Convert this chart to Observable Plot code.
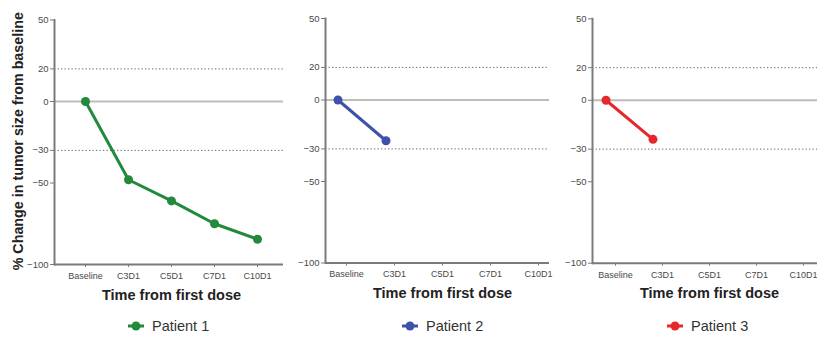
<!DOCTYPE html>
<html>
<head>
<meta charset="utf-8">
<script src="https://cdn.jsdelivr.net/npm/d3@7"></script>
<script src="https://cdn.jsdelivr.net/npm/@observablehq/plot@0.6"></script>
<style>
  html, body { margin: 0; padding: 0; background: #fff; }
  #root { position: relative; width: 817px; height: 337px; overflow: hidden; font-family: "Liberation Sans", Arial, sans-serif; }
  .panel { position: absolute; top: 0; }
  .legend { position: absolute; top: 318px; display: flex; align-items: center; font-size: 14.5px; color: #333; white-space: nowrap; }
  .legend svg { margin-right: 8px; }
</style>
</head>
<body>
<div id="root"></div>
<script>
// ---- data ----
const categories = ["Baseline", "C3D1", "C5D1", "C7D1", "C10D1"];
const patient1 = [0, -48, -61, -75, -84.5];
const patient2 = [0, -25];
const patient3 = [0, -24];
const patients = ["Patient 1", "Patient 2", "Patient 3"];
const colors = ["#22893d", "#3d52a8", "#e6282c"];
const yTicks = [50, 20, 0, -30, -50, -100];
const dottedRefs = [20, -30];
const zeroRef = [0];
const yDomain = [-100, 50];
const xTitle = "Time from first dose";
const yTitle = "% Change in tumor size from baseline";

const series = [patient1, patient2, patient3];

// ---- layout (pixels) ----
const H = 310;
const layout = [
  {left: 0,   width: 283, axisX: 54,  first: 84,  last: 258, top: 19.5, bottom: 264,   dx: 0},
  {left: 285, width: 264, axisX: 325, first: 346, last: 538, top: 18,   bottom: 262.5, dx: -8.5},
  {left: 555, width: 262, axisX: 592, first: 613, last: 804, top: 18.3, bottom: 262.7, dx: -9.5}
];
const legendPos = [128, 402, 667];

const root = document.getElementById("root");

series.forEach((vals, i) => {
  const L = layout[i];
  const data = vals.map((v, j) => ({t: categories[j], v}));
  const marks = [
    Plot.ruleY(zeroRef, {stroke: "#bdbdbd", strokeWidth: 2}),
    Plot.ruleY(dottedRefs, {stroke: "#666", strokeWidth: 1, strokeDasharray: "1.3,2.2"}),
    Plot.frame({anchor: "left", stroke: "#7a7a7a", strokeWidth: 2}),
    Plot.ruleY([yDomain[0]], {stroke: "#7a7a7a", strokeWidth: 2}),
    Plot.axisY({ticks: yTicks, tickSize: 4, tickPadding: 2, label: null, stroke: "#7a7a7a", fontSize: 9.5}),
    Plot.axisX({tickSize: 3, tickPadding: 5, label: null, stroke: "#7a7a7a", fontSize: 9}),
    Plot.line(data, {x: "t", y: "v", stroke: colors[i], strokeWidth: 3, dx: L.dx}),
    Plot.dot(data, {x: "t", y: "v", r: 4.5, fill: colors[i], stroke: "none", dx: L.dx}),
    Plot.text([xTitle], {x: () => categories[2], frameAnchor: "bottom", dy: 35, text: d => d, fontWeight: "bold", fontSize: 14.5, fill: "#222"})
  ];
  if (i === 0) {
    marks.push(Plot.text([yTitle], {frameAnchor: "left", textAnchor: "middle", dx: -36, dy: -1, rotate: -90, text: d => d, fontWeight: "bold", fontSize: 14.3, fill: "#222"}));
  }
  const chart = Plot.plot({
    width: L.width,
    height: H,
    marginLeft: L.axisX - L.left,
    marginRight: 0,
    marginTop: L.top,
    marginBottom: H - L.bottom,
    x: {type: "point", domain: categories, range: [L.first - L.left, L.last - L.left], padding: 0},
    y: {domain: yDomain},
    style: {fontFamily: "'Liberation Sans', Arial, sans-serif", color: "#4a4a4a", background: "transparent", overflow: "visible"},
    marks
  });
  const wrap = document.createElement("div");
  wrap.className = "panel";
  wrap.style.left = L.left + "px";
  wrap.appendChild(chart);
  root.appendChild(wrap);

  const leg = document.createElement("div");
  leg.className = "legend";
  leg.style.left = legendPos[i] + "px";
  leg.innerHTML = `<svg width="16" height="10"><line x1="0" y1="5" x2="16" y2="5" stroke="${colors[i]}" stroke-width="3"/><circle cx="8" cy="5" r="4.5" fill="${colors[i]}"/></svg><span>${patients[i]}</span>`;
  root.appendChild(leg);
});
</script>
</body>
</html>
